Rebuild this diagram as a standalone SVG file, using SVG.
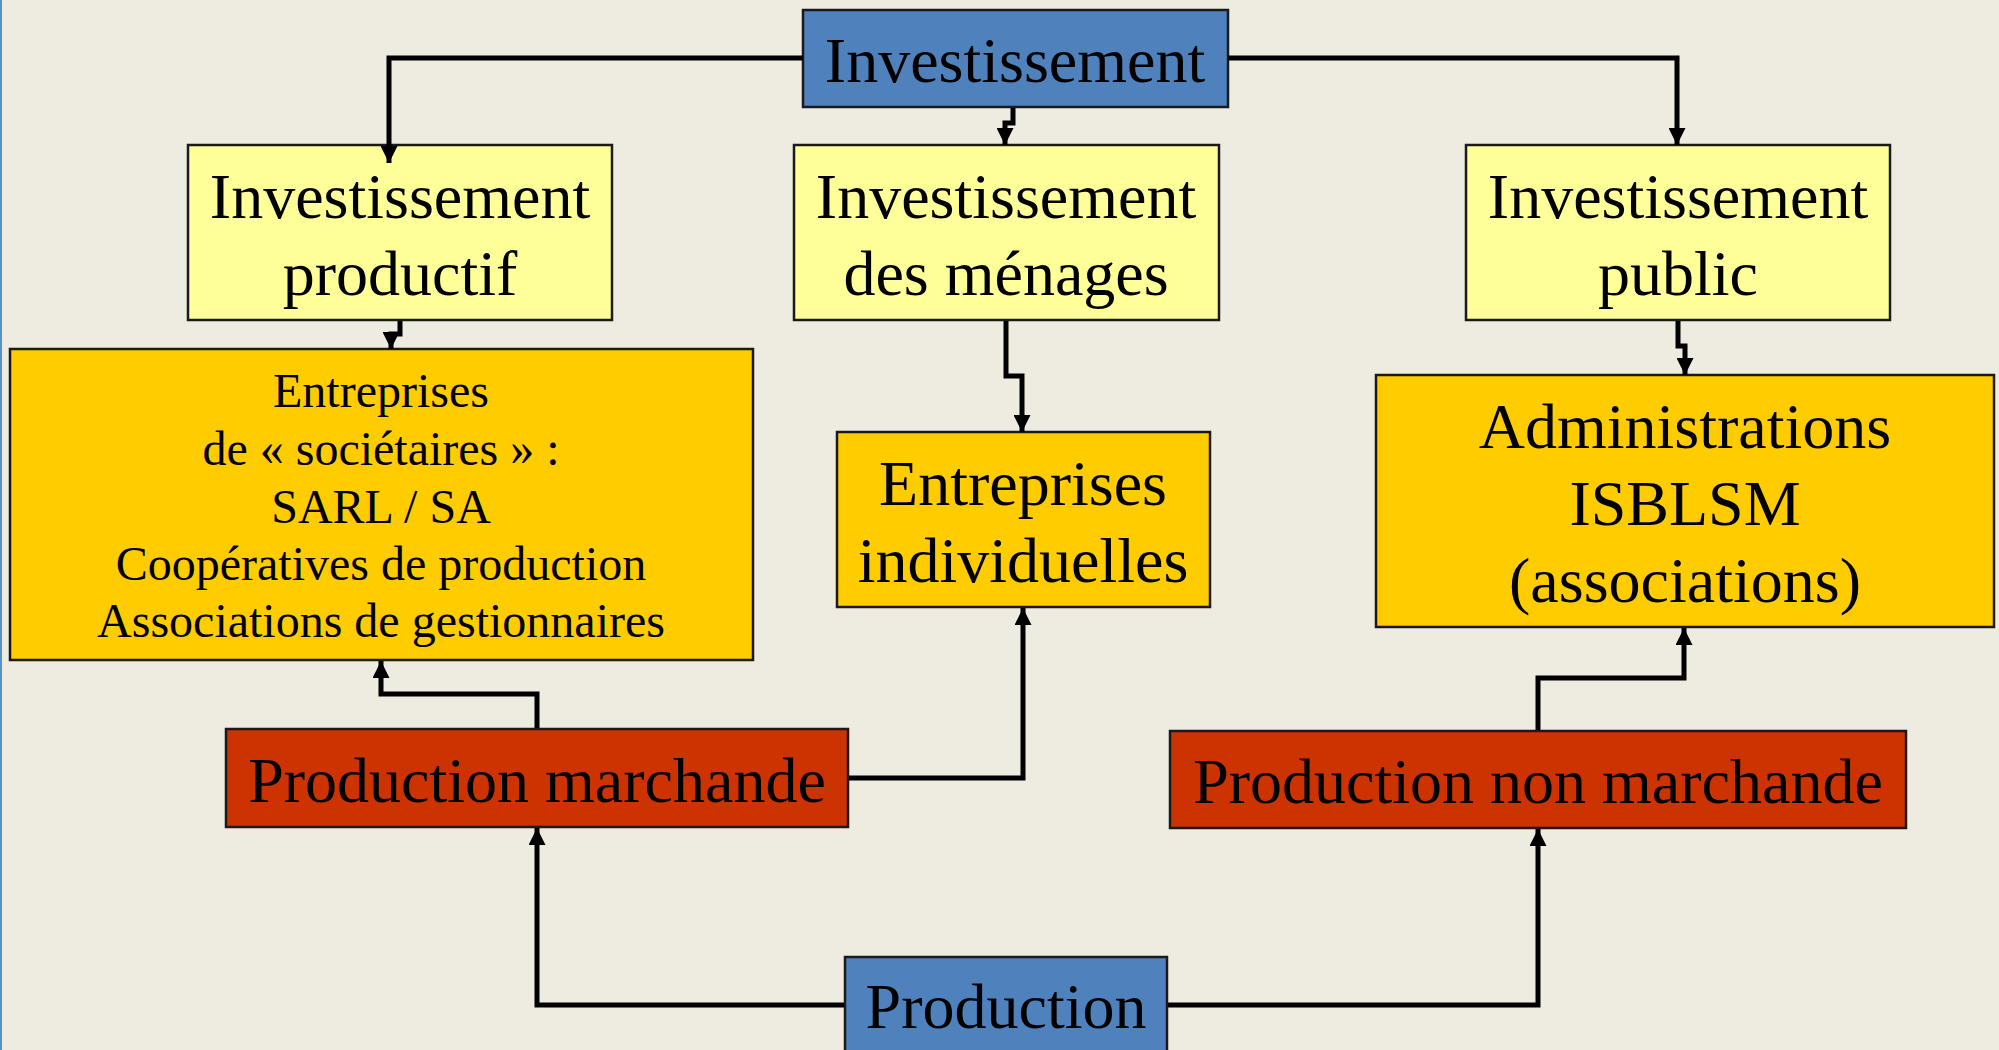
<svg xmlns="http://www.w3.org/2000/svg" width="1999" height="1050" viewBox="0 0 1999 1050">
<style>
.box{stroke:#1a1a1a;stroke-width:2.5}
.blue{fill:#4F81BD}
.pale{fill:#FFFF99}
.gold{fill:#FFCC00}
.red{fill:#CC3300}
.t{font-family:"Liberation Serif","Times New Roman",serif;font-size:64px;fill:#000;text-anchor:middle}
.s{font-family:"Liberation Serif","Times New Roman",serif;font-size:48px;fill:#000;text-anchor:middle}
.c{fill:none;stroke:#000;stroke-width:5;stroke-linejoin:miter}
</style>
<defs>
<marker id="ah" markerUnits="userSpaceOnUse" markerWidth="18" markerHeight="17" refX="17" refY="8.5" orient="auto">
<path d="M0,0 L17,8.5 L0,17 z" fill="#000"/>
</marker>
</defs>
<rect x="0" y="0" width="1999" height="1050" fill="#EEEBE1"/>
<rect x="0" y="0" width="2" height="1050" fill="#5A93C0"/>

<g id="investissement">
<rect class="box blue" x="803" y="10" width="425" height="97"/>
<text class="t" x="1015" y="82">Investissement</text>
</g>

<g id="inv-productif">
<rect class="box pale" x="188" y="145" width="424" height="175"/>
<text class="t" x="400" y="218">Investissement</text>
<text class="t" x="400" y="295">productif</text>
</g>

<g id="inv-menages">
<rect class="box pale" x="794" y="145" width="425" height="175"/>
<text class="t" x="1006" y="218">Investissement</text>
<text class="t" x="1006" y="295">des ménages</text>
</g>

<g id="inv-public">
<rect class="box pale" x="1466" y="145" width="424" height="175"/>
<text class="t" x="1678" y="218">Investissement</text>
<text class="t" x="1678" y="295">public</text>
</g>

<g id="entreprises-societaires">
<rect class="box gold" x="10" y="349" width="743" height="311"/>
<text class="s" x="381" y="407">Entreprises</text>
<text class="s" x="381" y="465">de « sociétaires » :</text>
<text class="s" x="381" y="523">SARL / SA</text>
<text class="s" x="381" y="580">Coopératives de production</text>
<text class="s" x="381" y="637">Associations de gestionnaires</text>
</g>

<g id="entreprises-individuelles">
<rect class="box gold" x="837" y="432" width="373" height="175"/>
<text class="t" x="1023" y="505">Entreprises</text>
<text class="t" x="1023" y="582">individuelles</text>
</g>

<g id="administrations">
<rect class="box gold" x="1376" y="375" width="618" height="252"/>
<text class="t" x="1685" y="448">Administrations</text>
<text class="t" x="1685" y="525">ISBLSM</text>
<text class="t" x="1685" y="602">(associations)</text>
</g>

<g id="production-marchande">
<rect class="box red" x="226" y="729" width="622" height="98"/>
<text class="t" x="537" y="802">Production marchande</text>
</g>

<g id="production-non-marchande">
<rect class="box red" x="1170" y="731" width="736" height="97"/>
<text class="t" x="1538" y="803">Production non marchande</text>
</g>

<g id="production">
<rect class="box blue" x="845" y="957" width="322" height="110"/>
<text class="t" x="1006" y="1028">Production</text>
</g>

<g id="connectors">
<path class="c" d="M803,58 H389 V163" marker-end="url(#ah)"/>
<path class="c" d="M1013,108 V123 H1005 V145" marker-end="url(#ah)"/>
<path class="c" d="M1228,58 H1677 V145" marker-end="url(#ah)"/>
<path class="c" d="M400,321 V334 H391 V349" marker-end="url(#ah)"/>
<path class="c" d="M1006,321 V376 H1022 V432" marker-end="url(#ah)"/>
<path class="c" d="M1678,321 V346 H1685 V375" marker-end="url(#ah)"/>
<path class="c" d="M537,728 V694 H381 V661" marker-end="url(#ah)"/>
<path class="c" d="M849,778 H1023 V608" marker-end="url(#ah)"/>
<path class="c" d="M1538,730 V678 H1684 V628" marker-end="url(#ah)"/>
<path class="c" d="M844,1005 H537 V828" marker-end="url(#ah)"/>
<path class="c" d="M1168,1005 H1538 V829" marker-end="url(#ah)"/>
</g>
</svg>
